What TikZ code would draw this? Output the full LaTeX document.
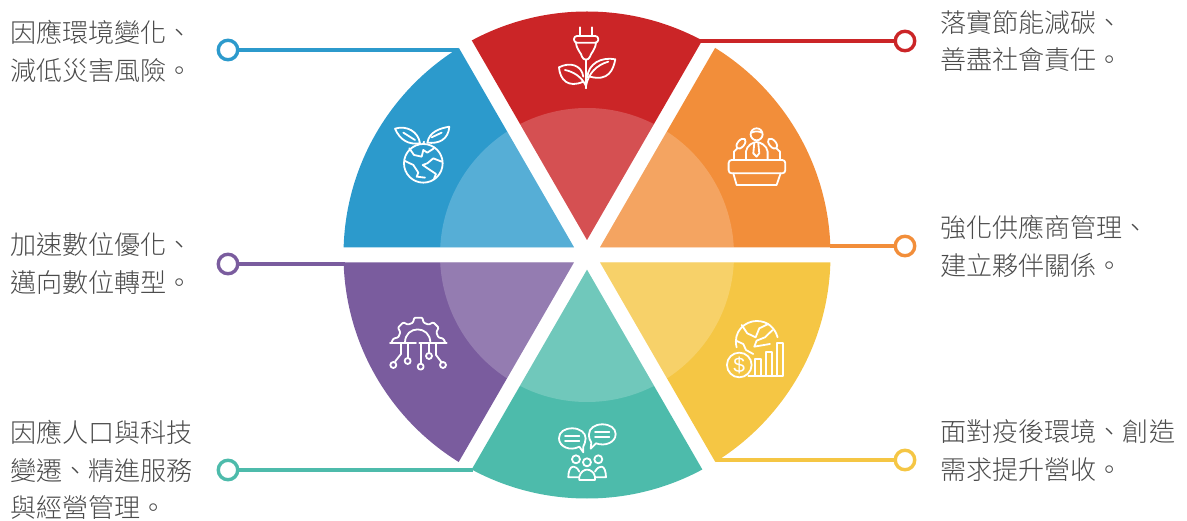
\documentclass[tikz,border=0pt]{standalone}
\usepackage{fontspec}
\setmainfont{Noto Sans CJK TC Light}
\newfontfamily\coinfont{Liberation Sans}
\definecolor{cred}{HTML}{CB2527}\definecolor{corange}{HTML}{F28E3A}\definecolor{cblue}{HTML}{2C9ACC}
\definecolor{cpurple}{HTML}{7A5C9E}\definecolor{cteal}{HTML}{4DBBAB}\definecolor{cyellow}{HTML}{F5C644}
\definecolor{ctext}{HTML}{4A4A4A}
\newcommand{\petal}[2]{\begin{scope}\clip #2;
\fill[#1] (587,255) circle[radius=243.5];
\fill[white,opacity=0.2] (587,255) circle[radius=147];
\end{scope}}
\tikzset{
 dot/.style={circle,draw=#1,fill=white,line width=3.4pt,minimum size=19.5pt,inner sep=0pt,outer sep=0pt},
 lead/.style={draw=#1,line width=3.4pt},
 label/.style={anchor=west,inner sep=0pt,align=left,text=ctext,font=\fontsize{26.1}{37.5}\selectfont},
 ic/.style={draw=white,line width=1.8pt,line join=round,line cap=round,fill=none},
}
\begin{document}
\begin{tikzpicture}[x=1pt,y=-1pt]
\useasboundingbox (0,0) rectangle (1187,521);
% petals
\petal{cblue}{(574,247.3)--(400.8,-52.7)--(300,-52.7)--(300,247.3)--cycle}
\petal{cred}{(587,240)--(413.8,-60)--(760.2,-60)--cycle}
\petal{corange}{(600,247.3)--(773.2,-52.7)--(880,-52.7)--(880,247.3)--cycle}
\petal{cyellow}{(600,262.3)--(773.2,562.3)--(880,562.3)--(880,262.3)--cycle}
\petal{cpurple}{(574,262.3)--(400.8,562.3)--(300,562.3)--(300,262.3)--cycle}
\petal{cteal}{(587,269.7)--(413.8,569.7)--(760.2,569.7)--cycle}
% leads
\node[dot=cblue] (d1) at (228,50) {};
\coordinate (e1) at (458,50);
\draw[lead=cblue] (d1) -- (e1);
\node[dot=cred] (d2) at (905,41) {};
\coordinate (e2) at (700,41);
\draw[lead=cred] (d2) -- (e2);
\node[dot=corange] (d3) at (905,246) {};
\coordinate (e3) at (830,246);
\draw[lead=corange] (d3) -- (e3);
\node[dot=cpurple] (d4) at (228,264) {};
\coordinate (e4) at (345,264);
\draw[lead=cpurple] (d4) -- (e4);
\node[dot=cteal] (d5) at (228,470) {};
\coordinate (e5) at (473,470);
\draw[lead=cteal] (d5) -- (e5);
\node[dot=cyellow] (d6) at (905,460) {};
\coordinate (e6) at (716,460);
\draw[lead=cyellow] (d6) -- (e6);
% labels
\node[label] (t1) at (10,51.5) {因應環境變化、\\減低災害風險。};
\node[label] (t2) at (940,41) {落實節能減碳、\\善盡社會責任。};
\node[label] (t3) at (940,246.5) {強化供應商管理、\\建立夥伴關係。};
\node[label] (t4) at (10,263.5) {加速數位優化、\\邁向數位轉型。};
\node[label] (t5) at (10,470) {因應人口與科技\\變遷、精進服務\\與經營管理。};
\node[label] (t6) at (940,450.5) {面對疫後環境、創造\\需求提升營收。};
% icons upper row (coords from 3x crop)
\begin{scope}[shift={(340,0)},x=0.3333pt,y=-0.3333pt,ic]
% plug and plant
\draw[ic] (720,82)--(720,108) (756,82)--(756,108);
\draw[ic,rounded corners=3pt] (702,108) rectangle (775,128);
\draw[ic] (708,128)..controls (710,150) and (725,160)..(726,170)..controls (730,182) and (746,182)..(750,170)..controls (752,160) and (766,150)..(768,128);
\draw[ic] (738,180)--(738,265);
\draw[ic] (742,232)..controls (745,190) and (785,170)..(826,178)..controls (820,210) and (805,245)..(750,230);
\draw[ic] (738,258)..controls (745,220) and (770,195)..(805,185);
\draw[ic] (657,202)..controls (690,185) and (725,195)..(730,230);
\draw[ic] (657,202)..controls (660,240) and (685,265)..(730,245);
\draw[ic] (738,258)..controls (725,230) and (700,215)..(675,210);
% podium
\draw[ic] (1250,403) circle[radius=18];
\draw[ic] (1234,398)..controls (1245,393) and (1255,393)..(1266,398);
\draw[ic] (1218,478)--(1218,455)..controls (1220,435) and (1240,427)..(1250,426)..controls (1260,427) and (1281,435)..(1283,455)--(1283,478);
\draw[ic] (1243,430)--(1240,460)--(1250,470)--(1258,460)--(1255,430);
\draw[ic,rotate around={50:(1203,431)}] (1203,431) ellipse[x radius=18,y radius=10];
\draw[ic,rotate around={-50:(1298,431)}] (1298,431) ellipse[x radius=18,y radius=10];
\draw[ic] (1192,445)--(1182,455)--(1182,478);
\draw[ic] (1309,445)--(1320,455)--(1320,478);
\draw[ic,rounded corners=3pt] (1166,480) rectangle (1336,520);
\draw[ic] (1180,520)--(1190,555)--(1310,555)--(1322,520);
% globe with leaves
\draw[ic] (250,490) circle[radius=58];
\draw[ic] (250,432)--(252,425);
\draw[ic] (165,386)..controls (200,375) and (235,395)..(240,430)..controls (205,435) and (180,420)..(165,386);
\draw[ic] (190,398)--(225,420);
\draw[ic] (328,380)..controls (325,420) and (295,432)..(262,428)..controls (268,395) and (300,385)..(328,380);
\draw[ic] (275,412)--(305,398);
\draw[ic] (208,445)--(222,465)--(245,470)--(250,450)--(262,458)--(282,445);
\draw[ic] (195,483)--(220,495)--(235,518)--(230,530)--(255,533);
\draw[ic] (305,485)--(280,475)--(262,490)--(248,495)--(270,510)--(288,522)--(282,536);
\end{scope}
\begin{scope}[shift={(340,250)},x=0.3333pt,y=-0.3333pt,ic]
% gear and circuit
\draw[ic] (150,278)--(228,278) (238,278)--(320,278);
\draw[ic] (195,278)..controls (195,225) and (271,225)..(271,278);
\draw[ic,rounded corners=1pt] (155,276)--(160,266)--(175,262)--(181,247)--(174,233)--(190,217)--(204,224)--(219,218)--(223,203)--(247,203)--(251,218)--(266,224)--(280,217)--(296,233)--(289,247)--(295,262)--(310,266)--(315,276);
\draw[ic] (183,280)--(183,312)--(165,335);
\draw[ic] (160,345) circle[radius=9];
\draw[ic] (203,280)--(203,324);
\draw[ic] (203,333) circle[radius=9];
\draw[ic] (242,280)--(242,340);
\draw[ic] (242,350) circle[radius=9];
\draw[ic] (267,280)--(267,309);
\draw[ic] (267,318) circle[radius=9];
\draw[ic] (288,280)--(288,315)--(304,336);
\draw[ic] (309,345) circle[radius=9];
% chat and people
\draw[ic] (718,590)..controls (690,605) and (657,590)..(657,565)..controls (657,545) and (675,535)..(697,535)..controls (720,535) and (737,548)..(737,565)..controls (737,575) and (733,583)..(730,590)--(730,607)--cycle;
\draw[ic] (675,558)--(718,558) (675,572)--(718,572);
\draw[ic] (768,580)..controls (795,590) and (827,578)..(827,552)..controls (827,535) and (810,523)..(787,523)..controls (765,523) and (747,535)..(747,553)..controls (747,565) and (750,572)..(754,578)--(752,596)--cycle;
\draw[ic] (765,547)--(808,547) (765,560)--(808,560);
\draw[ic] (708,628) circle[radius=12];
\draw[ic] (775,628) circle[radius=12];
\draw[ic] (741,637) circle[radius=12];
\draw[ic] (718,690)--(718,680)..controls (722,665) and (733,659)..(741,659)..controls (750,659) and (762,665)..(765,680)--(765,690)--cycle;
\draw[ic] (718,665)..controls (712,652) and (703,650)..(700,650)..controls (690,650) and (685,665)..(685,682)--(716,682);
\draw[ic] (765,665)..controls (772,652) and (780,650)..(785,650)..controls (793,650) and (798,665)..(798,682)--(766,682);
% finance globe
\draw[ic] (1190,292)..controls (1178,245) and (1215,213)..(1250,213)..controls (1285,213) and (1305,235)..(1313,262);
\draw[ic] (1205,225)--(1222,250)--(1247,262)--(1258,235)--(1285,222);
\draw[ic] (1188,272)--(1210,282)--(1218,300)--(1240,312);
\draw[ic] (1298,240)--(1275,262)--(1250,272)--(1243,290)--(1290,282);
\draw[ic] (1225,378)--(1330,378)--(1330,278)--(1312,278)--(1312,378);
\draw[ic] (1296,378)--(1296,305)--(1278,305)--(1278,378);
\draw[ic] (1262,378)--(1262,328)--(1244,328)--(1244,378);
\draw[ic] (1198,345) circle[radius=37];
\node[inner sep=0pt,text=white,font=\coinfont\fontsize{21}{21}\selectfont] (cash) at (1198,345) {\$};
\end{scope}
\end{tikzpicture}
\end{document}
